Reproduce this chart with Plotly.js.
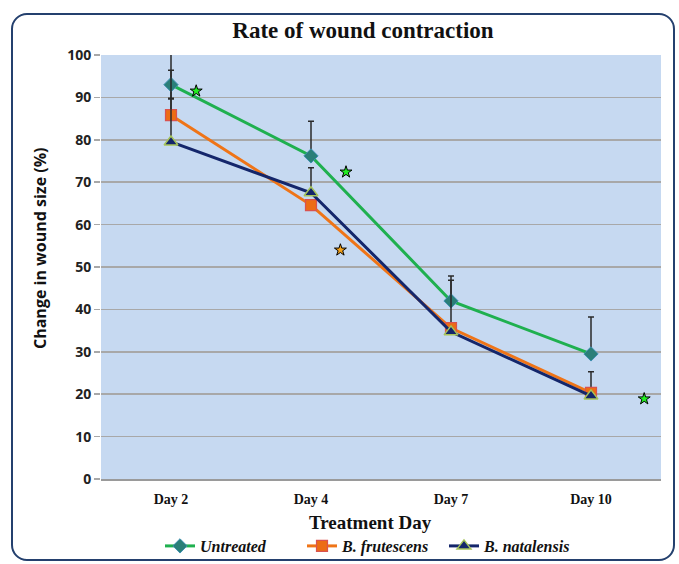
<!DOCTYPE html>
<html>
<head>
<meta charset="utf-8">
<script src="https://cdn.plot.ly/plotly-3.0.1.min.js"></script>
<style>
  html, body { margin: 0; padding: 0; background: #ffffff; }
  #wrap { position: relative; width: 679px; height: 564px; overflow: hidden; }
  #frame { position: absolute; left: 11px; top: 13px; width: 664px; height: 548px;
           border: 2px solid #24406e; border-radius: 16px; box-sizing: border-box; }
  #chart { position: absolute; left: 0; top: 0; width: 679px; height: 564px; }
</style>
</head>
<body>
<div id="wrap">
  <div id="frame"></div>
  <div id="chart"></div>
</div>
<script>
// ---- data ----
const days = ["Day 2", "Day 4", "Day 7", "Day 10"];
const dayIndex = [0, 1, 2, 3];

const untreated = [93.0, 76.2, 42.0, 29.5];
const untreatedErrPlus = [3.4, 8.2, 5.9, 8.7];
const untreatedErrMinus = [3.4, 0, 0, 0];

const frutescens = [85.8, 64.6, 35.6, 20.3];
const frutescensErrPlus = [16.0, 0, 11.3, 5.0];

const natalensis = [79.5, 67.5, 34.7, 19.6];
const natalensisErrPlus = [10.3, 5.9, 0, 0];

// significance stars
const greenStarX = [0.18, 1.25, 3.38];
const greenStarY = [91.5, 72.4, 18.9];
const orangeStarX = [1.21];
const orangeStarY = [54.0];

const serif = "Liberation Serif, DejaVu Serif, serif";
const sans = "Open Sans, Noto Sans, sans-serif";

const traces = [
  {
    x: dayIndex, y: untreated, name: "Untreated", type: "scatter", mode: "lines+markers",
    line: { color: "#1fb04f", width: 3 },
    marker: { symbol: "diamond", size: 11, color: "#2b7f78", line: { color: "#3e8fb0", width: 1 } },
    error_y: { type: "data", symmetric: false, array: untreatedErrPlus, arrayminus: untreatedErrMinus,
               color: "#2a2a2a", thickness: 1.5, width: 3 }
  },
  {
    x: dayIndex, y: frutescens, name: "B. frutescens", type: "scatter", mode: "lines+markers",
    line: { color: "#ef7417", width: 3 },
    marker: { symbol: "square", size: 11, color: "#ec6d14", line: { color: "#d9534f", width: 1.2 } },
    error_y: { type: "data", symmetric: false, array: frutescensErrPlus, arrayminus: [0, 0, 0, 0],
               color: "#2a2a2a", thickness: 1.5, width: 3 }
  },
  {
    x: dayIndex, y: natalensis, name: "B. natalensis", type: "scatter", mode: "lines+markers",
    line: { color: "#14266b", width: 3 },
    marker: { symbol: "triangle-up", size: 12, color: "#14266b", line: { color: "#a6c45a", width: 1.5 } },
    error_y: { type: "data", symmetric: false, array: natalensisErrPlus, arrayminus: [0, 0, 0, 0],
               color: "#2a2a2a", thickness: 1.5, width: 3 }
  },
  {
    x: greenStarX, y: greenStarY, type: "scatter", mode: "markers", showlegend: false, hoverinfo: "skip",
    marker: { symbol: "star", size: 9, color: "#22ee22", line: { color: "#000000", width: 1 } }
  },
  {
    x: orangeStarX, y: orangeStarY, type: "scatter", mode: "markers", showlegend: false, hoverinfo: "skip",
    marker: { symbol: "star", size: 9, color: "#f5a21a", line: { color: "#000000", width: 1 } }
  }
];

const layout = {
  width: 679, height: 564,
  margin: { l: 101, r: 18, t: 55, b: 85 },
  paper_bgcolor: "rgba(0,0,0,0)",
  plot_bgcolor: "#c6d9f1",
  showlegend: true,
  title: {
    text: "<b>Rate of wound contraction</b>",
    font: { family: serif, size: 23, color: "#111111" },
    x: 363 / 679, xref: "container", xanchor: "center",
    y: 1 - 30 / 564, yref: "container", yanchor: "middle"
  },
  xaxis: {
    range: [-0.5, 3.5],
    tickmode: "array", tickvals: dayIndex, ticktext: days.map(d => "<b>" + d + "</b>"),
    tickfont: { family: serif, size: 14, color: "#111111" },
    showgrid: false, zeroline: false,
    showline: true, linecolor: "#9a9a9a", linewidth: 1.5,
    ticks: "", ticklabelstandoff: 7
  },
  yaxis: {
    range: [0, 100], dtick: 10, tick0: 0,
    tickfont: { family: sans, size: 14, color: "#222222", weight: "bold" },
    showgrid: true, gridcolor: "#a8a8a8", gridwidth: 1.5,
    zeroline: false, showline: false,
    ticks: "outside", ticklen: 6, tickcolor: "#a8a8a8", tickwidth: 1.5
  },
  legend: {
    orientation: "h",
    x: 373 / 679, xref: "container", xanchor: "center",
    y: 1 - 546 / 564, yref: "container", yanchor: "middle",
    font: { family: serif, size: 16, color: "#111111", style: "italic", weight: "bold" },
    bgcolor: "rgba(0,0,0,0)", itemwidth: 30, entrywidth: 97, tracegroupgap: 0
  },
  annotations: [
    {
      text: "<b>Change in wound size (%)</b>", textangle: -90,
      xref: "paper", yref: "paper", x: (40 - 101) / 560, y: (479 - 248) / 424,
      xanchor: "center", yanchor: "middle", showarrow: false,
      font: { family: sans, size: 16, color: "#111111" }
    },
    {
      text: "<b>Treatment Day</b>",
      xref: "paper", yref: "paper", x: (370 - 101) / 560, y: -(522 - 479) / 424,
      xanchor: "center", yanchor: "middle", showarrow: false,
      font: { family: serif, size: 19, color: "#111111" }
    }
  ]
};

Plotly.newPlot("chart", traces, layout, { displayModeBar: false, staticPlot: true });
</script>
</body>
</html>
